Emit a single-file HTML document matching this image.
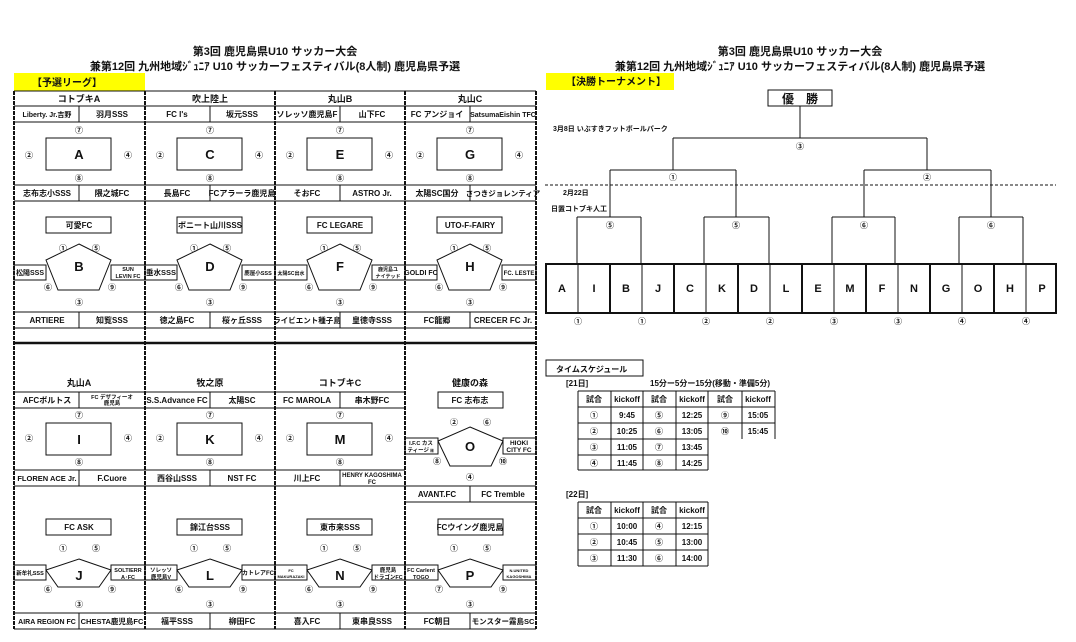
<!DOCTYPE html>
<html><head><meta charset="utf-8"><style>
html,body{margin:0;padding:0;background:#fff;}
svg{display:block;}
text{font-family:"Liberation Sans","Noto Sans CJK JP",sans-serif;font-weight:bold;fill:#111;}
</style></head><body>
<svg width="1076" height="642" viewBox="0 0 1076 642" xmlns="http://www.w3.org/2000/svg">
<!-- titles -->
<g text-anchor="middle">
<text x="275" y="55" font-size="11">第3回 鹿児島県U10 サッカー大会</text>
<text x="275" y="70" font-size="11">兼第12回 九州地域ｼﾞｭﾆｱ U10 サッカーフェスティバル(8人制) 鹿児島県予選</text>
<text x="800" y="55" font-size="11">第3回 鹿児島県U10 サッカー大会</text>
<text x="800" y="70" font-size="11">兼第12回 九州地域ｼﾞｭﾆｱ U10 サッカーフェスティバル(8人制) 鹿児島県予選</text>
</g>
<rect x="14" y="73" width="131" height="18" fill="#ffff00"/>
<text x="32" y="86" font-size="10">【予選リーグ】</text>
<rect x="546" y="73" width="128" height="17" fill="#ffff00"/>
<text x="566" y="85" font-size="10">【決勝トーナメント】</text>

<g stroke="#111" stroke-width="1" fill="none">
<path d="M14 91H536M14 106H536M14 122H536M14 185H536M14 201H536M14 312H536M14 328H536"/>
<path d="M14 343H536" stroke-width="2.5"/>
<path d="M14 392H405M14 408H405M14 470H405M14 486H536M405 502H536M14 613H536M14 629H536"/>
<path d="M14 91V629M145 91V629M275 91V629M405 91V629M536 91V629" stroke-width="2" stroke-dasharray="4,1"/>
<path d="M79 106V122M210 106V122M340 106V122M470 106V122M79 185V201M210 185V201M340 185V201M470 185V201M79 312V328M210 312V328M340 312V328M470 312V328"/>
<path d="M79 392V408M210 392V408M340 392V408M79 470V486M210 470V486M340 470V486M470 486V502M79 613V629M210 613V629M340 613V629M470 613V629"/>
<rect x="46" y="138" width="65" height="32"/><rect x="177" y="138" width="65" height="32"/><rect x="307" y="138" width="65" height="32"/><rect x="437" y="138" width="65" height="32"/>
<rect x="46" y="217" width="65" height="16"/><rect x="177" y="217" width="65" height="16"/><rect x="307" y="217" width="65" height="16"/><rect x="437" y="217" width="65" height="16"/>
<polygon points="79,244 111,260 99,290 58,290 46,260"/>
<polygon points="210,244 242,260 230,290 189,290 177,260"/>
<polygon points="340,244 372,260 360,290 319,290 307,260"/>
<polygon points="470,244 502,260 490,290 449,290 437,260"/>
<rect x="14" y="265" width="32" height="15"/><rect x="111" y="265" width="34" height="15"/>
<rect x="145" y="265" width="32" height="15"/><rect x="242" y="265" width="33" height="15"/>
<rect x="275" y="265" width="32" height="15"/><rect x="372" y="265" width="33" height="15"/>
<rect x="405" y="265" width="32" height="15"/><rect x="502" y="265" width="34" height="15"/>
<rect x="46" y="423" width="65" height="32"/><rect x="177" y="423" width="65" height="32"/><rect x="307" y="423" width="65" height="32"/>
<rect x="438" y="392" width="65" height="16"/>
<polygon points="470,427 503,441 491,466 450,466 438,441"/>
<rect x="405" y="438" width="33" height="16"/><rect x="503" y="438" width="33" height="16"/>
<rect x="46" y="519" width="65" height="16"/><rect x="177" y="519" width="65" height="16"/><rect x="307" y="519" width="65" height="16"/><rect x="438" y="519" width="65" height="16"/>
<polygon points="79,559 111,570 99,587 58,587 46,570"/>
<polygon points="210,559 242,570 230,587 189,587 177,570"/>
<polygon points="340,559 372,570 360,587 319,587 307,570"/>
<polygon points="470,559 503,570 491,587 450,587 438,570"/>
<rect x="14" y="565" width="32" height="15"/><rect x="111" y="565" width="34" height="15"/>
<rect x="145" y="565" width="32" height="15"/><rect x="242" y="565" width="33" height="15"/>
<rect x="275" y="565" width="32" height="15"/><rect x="372" y="565" width="33" height="15"/>
<rect x="405" y="565" width="33" height="15"/><rect x="503" y="565" width="33" height="15"/>
</g>

<g font-size="8" text-anchor="middle">
<text x="79" y="102" font-size="9">コトブキA</text><text x="210" y="102" font-size="9">吹上陸上</text><text x="340" y="102" font-size="9">丸山B</text><text x="470" y="102" font-size="9">丸山C</text>
<text x="47" y="117" font-size="7">Liberty. Jr.吉野</text><text x="112" y="117">羽月SSS</text>
<text x="177" y="117">FC I's</text><text x="242" y="117">坂元SSS</text>
<text x="307" y="117">ソレッソ鹿児島F</text><text x="372" y="117">山下FC</text>
<text x="437" y="117">FC アンジョイ</text><text x="503" y="117" font-size="7">SatsumaEishin TFC</text>
<text x="79" y="133">⑦</text><text x="210" y="133">⑦</text><text x="340" y="133">⑦</text><text x="470" y="133">⑦</text>
<text x="29" y="158">②</text><text x="128" y="158">④</text><text x="160" y="158">②</text><text x="259" y="158">④</text><text x="290" y="158">②</text><text x="389" y="158">④</text><text x="420" y="158">②</text><text x="519" y="158">④</text>
<text x="79" y="159" font-size="13">A</text><text x="210" y="159" font-size="13">C</text><text x="340" y="159" font-size="13">E</text><text x="470" y="159" font-size="13">G</text>
<text x="79" y="181">⑧</text><text x="210" y="181">⑧</text><text x="340" y="181">⑧</text><text x="470" y="181">⑧</text>
<text x="47" y="196">志布志小SSS</text><text x="112" y="196">隈之城FC</text>
<text x="177" y="196">長島FC</text><text x="242" y="196">FCアラーラ鹿児島</text>
<text x="307" y="196">そおFC</text><text x="372" y="196">ASTRO Jr.</text>
<text x="437" y="196">太陽SC国分</text><text x="503" y="196" font-size="7.5">さつきジョレンティア</text>
<text x="79" y="228">可愛FC</text><text x="210" y="228">ボニート山川SSS</text><text x="340" y="228">FC LEGARE</text><text x="470" y="228">UTO-F-FAIRY</text>
<text x="63" y="251">①</text><text x="96" y="251">⑤</text><text x="194" y="251">①</text><text x="227" y="251">⑤</text><text x="324" y="251">①</text><text x="357" y="251">⑤</text><text x="454" y="251">①</text><text x="487" y="251">⑤</text>
<text x="79" y="271" font-size="13">B</text><text x="210" y="271" font-size="13">D</text><text x="340" y="271" font-size="13">F</text><text x="470" y="271" font-size="13">H</text>
<text x="30" y="275" font-size="7">松陽SSS</text><text x="128" y="271" font-size="5.5">SUN</text><text x="128" y="278" font-size="5.5">LEVIN FC</text>
<text x="161" y="275" font-size="7.5">垂水SSS</text><text x="258" y="275" font-size="5.5">鹿屋小SSS</text>
<text x="291" y="275" font-size="5">太陽SC出水</text><text x="388" y="271" font-size="5">鹿児島ユ</text><text x="388" y="278" font-size="5">ナイテッド</text>
<text x="421" y="275" font-size="7">GOLDI FC</text><text x="519" y="275" font-size="6">FC. LESTE</text>
<text x="48" y="290">⑥</text><text x="112" y="290">⑨</text><text x="179" y="290">⑥</text><text x="243" y="290">⑨</text><text x="309" y="290">⑥</text><text x="373" y="290">⑨</text><text x="439" y="290">⑥</text><text x="503" y="290">⑨</text>
<text x="79" y="305">③</text><text x="210" y="305">③</text><text x="340" y="305">③</text><text x="470" y="305">③</text>
<text x="47" y="323">ARTIERE</text><text x="112" y="323">知覧SSS</text>
<text x="177" y="323">徳之島FC</text><text x="242" y="323">桜ヶ丘SSS</text>
<text x="307" y="323" font-size="7.5">ライビエント種子島</text><text x="372" y="323">皇徳寺SSS</text>
<text x="437" y="323">FC龍郷</text><text x="503" y="323">CRECER FC Jr.</text>

<text x="79" y="386" font-size="9">丸山A</text><text x="210" y="386" font-size="9">牧之原</text><text x="340" y="386" font-size="9">コトブキC</text><text x="470" y="386" font-size="9">健康の森</text>
<text x="47" y="403">AFCボルトス</text><text x="112" y="399" font-size="5.5">FC デザフィーオ</text><text x="112" y="405" font-size="5.5">鹿児島</text>
<text x="177" y="403">S.S.Advance FC</text><text x="242" y="403">太陽SC</text>
<text x="307" y="403">FC MAROLA</text><text x="372" y="403">串木野FC</text>
<text x="470" y="403">FC 志布志</text>
<text x="79" y="418">⑦</text><text x="210" y="418">⑦</text><text x="340" y="418">⑦</text>
<text x="29" y="441">②</text><text x="128" y="441">④</text><text x="160" y="441">②</text><text x="259" y="441">④</text><text x="290" y="441">②</text><text x="389" y="441">④</text>
<text x="79" y="444" font-size="13">I</text><text x="210" y="444" font-size="13">K</text><text x="340" y="444" font-size="13">M</text>
<text x="79" y="465">⑧</text><text x="210" y="465">⑧</text><text x="340" y="465">⑧</text>
<text x="454" y="425">②</text><text x="487" y="425">⑥</text>
<text x="470" y="451" font-size="13">O</text>
<text x="421" y="445" font-size="5.5">I.F.C カス</text><text x="421" y="452" font-size="5.5">ティージョ</text>
<text x="519" y="445" font-size="6.5">HIOKI</text><text x="519" y="452" font-size="6.5">CITY FC</text>
<text x="437" y="464">⑧</text><text x="503" y="464">⑩</text><text x="470" y="480">④</text>
<text x="47" y="481" font-size="7.5">FLOREN ACE Jr.</text><text x="112" y="481">F.Cuore</text>
<text x="177" y="481">西谷山SSS</text><text x="242" y="481">NST FC</text>
<text x="307" y="481">川上FC</text><text x="372" y="477" font-size="6">HENRY KAGOSHIMA</text><text x="372" y="484" font-size="6">FC</text>
<text x="437" y="497">AVANT.FC</text><text x="503" y="497">FC Tremble</text>
<text x="79" y="530">FC ASK</text><text x="210" y="530">錦江台SSS</text><text x="340" y="530">東市来SSS</text><text x="470" y="530">FCウイング鹿児島</text>
<text x="63" y="551">①</text><text x="96" y="551">⑤</text><text x="194" y="551">①</text><text x="227" y="551">⑤</text><text x="324" y="551">①</text><text x="357" y="551">⑤</text><text x="454" y="551">①</text><text x="487" y="551">⑤</text>
<text x="79" y="580" font-size="13">J</text><text x="210" y="580" font-size="13">L</text><text x="340" y="580" font-size="13">N</text><text x="470" y="580" font-size="13">P</text>
<text x="30" y="575" font-size="5.5">新牟礼SSS</text><text x="128" y="572" font-size="5.5">SOLTIERR</text><text x="128" y="579" font-size="5.5">A･FC</text>
<text x="161" y="572" font-size="5.5">ソレッソ</text><text x="161" y="579" font-size="5.5">鹿児島V</text><text x="258" y="575" font-size="6">カトレアFC</text>
<text x="291" y="572" font-size="4">FC</text><text x="291" y="578" font-size="4">MAKURAZAKI</text><text x="388" y="572" font-size="5.5">鹿児島</text><text x="388" y="579" font-size="5.5">ドラゴンFC</text>
<text x="421" y="572" font-size="5.5">FC Carlent</text><text x="421" y="579" font-size="5.5">TOGO</text><text x="519" y="572" font-size="4">N.UNITED</text><text x="519" y="578" font-size="4">KAGOSHIMA</text>
<text x="48" y="592">⑥</text><text x="112" y="592">⑨</text><text x="179" y="592">⑥</text><text x="243" y="592">⑨</text><text x="309" y="592">⑥</text><text x="373" y="592">⑨</text><text x="439" y="592">⑦</text><text x="503" y="592">⑨</text>
<text x="79" y="607">③</text><text x="210" y="607">③</text><text x="340" y="607">③</text><text x="470" y="607">③</text>
<text x="47" y="624" font-size="7">AIRA REGION FC</text><text x="112" y="624" font-size="7.5">CHESTA鹿児島FC</text>
<text x="177" y="624">福平SSS</text><text x="242" y="624">柳田FC</text>
<text x="307" y="624">喜入FC</text><text x="372" y="624">東串良SSS</text>
<text x="437" y="624">FC朝日</text><text x="503" y="624" font-size="7.5">モンスター霧島SC</text>
</g>

<g stroke="#111" stroke-width="1" fill="none">
<rect x="768" y="90" width="64" height="16"/>
<path d="M800 106V138M673 138H927M673 138V170M927 138V170M610 170H736M864 170H991M610 170V217M736 170V217M864 170V217M991 170V217"/>
<path d="M577 217H641M704 217H769M832 217H895M959 217H1023M577 217V264M641 217V264M704 217V264M769 217V264M832 217V264M895 217V264M959 217V264M1023 217V264"/>
<path d="M545 185H1056" stroke-dasharray="3,2"/>
<rect x="546" y="264" width="510" height="49" stroke-width="2"/>
<path d="M578 264V313M642 264V313M674 264V313M706 264V313M738 264V313M770 264V313M802 264V313M834 264V313M866 264V313M898 264V313M930 264V313M962 264V313M994 264V313M1026 264V313"/>
<path d="M610 264V313M674 264V313M738 264V313M802 264V313M866 264V313M930 264V313M994 264V313" stroke-width="2"/>
<rect x="546" y="360" width="97" height="16"/>
</g>
<g text-anchor="middle" font-size="8">
<text x="800" y="103" font-size="12">優　勝</text>
<text x="800" y="149">③</text><text x="673" y="180">①</text><text x="927" y="180">②</text>
<text x="610" y="228">⑤</text><text x="736" y="228">⑤</text><text x="864" y="228">⑥</text><text x="991" y="228">⑥</text>
<g font-size="11">
<text x="562" y="292">A</text><text x="594" y="292">I</text><text x="626" y="292">B</text><text x="658" y="292">J</text><text x="690" y="292">C</text><text x="722" y="292">K</text><text x="754" y="292">D</text><text x="786" y="292">L</text><text x="818" y="292">E</text><text x="850" y="292">M</text><text x="882" y="292">F</text><text x="914" y="292">N</text><text x="946" y="292">G</text><text x="978" y="292">O</text><text x="1010" y="292">H</text><text x="1042" y="292">P</text>
</g>
<text x="578" y="324">①</text><text x="642" y="324">①</text><text x="706" y="324">②</text><text x="770" y="324">②</text><text x="834" y="324">③</text><text x="898" y="324">③</text><text x="962" y="324">④</text><text x="1026" y="324">④</text>
</g>
<g font-size="7">
<text x="553" y="131">3月8日  いぶすきフットボールパーク</text>
<text x="563" y="195">2月22日</text>
<text x="551" y="211">日置コトブキ人工</text>
</g>

<g font-size="8">
<text x="556" y="372">タイムスケジュール</text>
<text x="566" y="386">[21日]</text>
<text x="650" y="386">15分ー5分ー15分(移動・準備5分)</text>
<text x="566" y="497">[22日]</text>
</g>
<g stroke="#111" stroke-width="1" fill="none">
<path d="M578 391H775M578 407H775M578 423H775M578 439H708M578 455H708M578 470H708"/>
<path d="M578 391V470M611 391V470M643 391V470M676 391V470M708 391V470M742 391V439M775 391V439"/>
<path d="M578 502H708M578 518H708M578 534H708M578 550H708M578 566H708"/>
<path d="M578 502V566M611 502V566M643 502V566M676 502V566M708 502V566"/>
</g>
<g font-size="8" text-anchor="middle">
<text x="594" y="402">試合</text><text x="627" y="402">kickoff</text><text x="659" y="402">試合</text><text x="692" y="402">kickoff</text><text x="725" y="402">試合</text><text x="758" y="402">kickoff</text>
<text x="594" y="418">①</text><text x="627" y="418">9:45</text><text x="659" y="418">⑤</text><text x="692" y="418">12:25</text><text x="725" y="418">⑨</text><text x="758" y="418">15:05</text>
<text x="594" y="434">②</text><text x="627" y="434">10:25</text><text x="659" y="434">⑥</text><text x="692" y="434">13:05</text><text x="725" y="434">⑩</text><text x="758" y="434">15:45</text>
<text x="594" y="450">③</text><text x="627" y="450">11:05</text><text x="659" y="450">⑦</text><text x="692" y="450">13:45</text>
<text x="594" y="466">④</text><text x="627" y="466">11:45</text><text x="659" y="466">⑧</text><text x="692" y="466">14:25</text>
<text x="594" y="513">試合</text><text x="627" y="513">kickoff</text><text x="659" y="513">試合</text><text x="692" y="513">kickoff</text>
<text x="594" y="529">①</text><text x="627" y="529">10:00</text><text x="659" y="529">④</text><text x="692" y="529">12:15</text>
<text x="594" y="545">②</text><text x="627" y="545">10:45</text><text x="659" y="545">⑤</text><text x="692" y="545">13:00</text>
<text x="594" y="561">③</text><text x="627" y="561">11:30</text><text x="659" y="561">⑥</text><text x="692" y="561">14:00</text>
</g>
</svg>
</body></html>
